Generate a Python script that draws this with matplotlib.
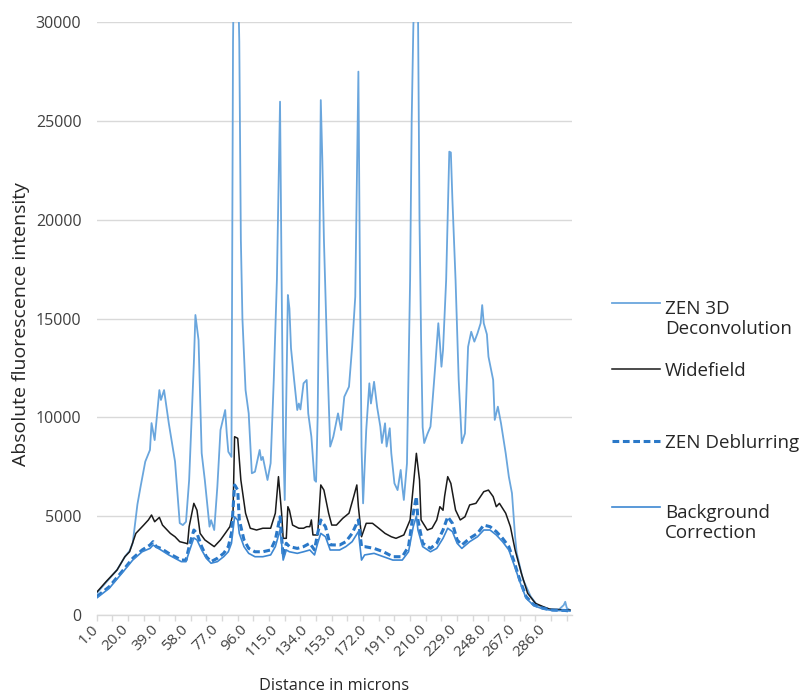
import matplotlib
matplotlib.use("Agg")
import matplotlib.pyplot as plt
from matplotlib.lines import Line2D

plt.rcParams["font.family"] = ["Open Sans", "DejaVu Sans"]

# distance (microns) / intensity pairs
deconv_x = [1, 7, 14, 19, 22, 24, 27, 29, 32, 35, 36, 38, 41, 42, 44, 47, 51, 54, 56, 58,
            60, 63, 64, 66, 68, 70, 73, 74, 76, 78, 80, 83, 84, 85, 87, 88, 89, 90, 91, 92,
            93, 94, 96, 98, 100, 102, 105, 106, 107, 110, 112, 114, 116, 118, 119, 120, 121,
            122, 123, 124, 125, 127, 129, 130, 131, 133, 135, 136, 138, 140, 141, 142, 143,
            144, 145, 146, 148, 150, 152, 155, 157, 159, 162, 164, 166, 168, 169, 170, 171,
            172, 173, 175, 176, 178, 180, 182, 183, 185, 186, 188, 189, 191, 193, 195, 196,
            197, 199, 201, 202, 203, 204, 205, 206, 207, 208, 209, 210, 212, 214, 215, 217,
            219, 220, 221, 222, 224, 226, 227, 228, 230, 232, 234, 236, 238, 240, 242, 244,
            246, 247, 248, 250, 251, 254, 255, 257, 259, 262, 264, 266, 268, 269, 273, 278,
            282, 288, 292, 296, 299, 300, 301, 303]
deconv_y = [1100, 1650, 2280, 2950, 3250, 3640, 5600, 6490, 7760, 8350, 9710, 8850, 11380,
            10880, 11380, 9710, 7760, 4650, 4550, 4720, 6830, 12730, 15180, 13910, 8190, 6830,
            4470, 4800, 4300, 6490, 9360, 10370, 9190, 8260, 8000, 29000, 36000, 38000, 33000,
            29000, 19000, 15000, 11380, 10200, 7170, 7250, 8350, 7840, 8000, 6830, 7680, 11890,
            16950, 25970, 17000, 9000, 5820, 11000, 16190, 15500, 13500, 11890, 10370, 10700,
            10400, 11720, 11890, 10200, 9020, 6830, 6740, 10000, 16950, 26050, 23000, 19000,
            13400, 8520, 9020, 10200, 9360, 11040, 11550, 13570, 16100, 27490, 17000, 8500,
            5650, 7500, 9360, 11720, 10700, 11800, 10500, 9530, 8700, 9700, 8520, 9450, 8180,
            6660, 6320, 7340, 6500, 5820, 7670, 16950, 25000, 29500, 33000, 36000, 31000, 20000,
            14000, 9500, 8700, 9150, 9530, 10500, 12560, 14760, 13740, 12560, 13400, 16950,
            23440, 23400, 21000, 16950, 11890, 8690, 9190, 13570, 14330, 13830, 14250, 14760,
            15680, 14760, 14200, 13070, 11890, 9870, 10540, 9700, 8180, 7000, 6160, 3960, 3150,
            1800, 930, 510, 340, 250, 280, 500, 670, 350, 250]

wide_x = [1, 7, 14, 19, 22, 26, 31, 34, 36, 38, 41, 43, 48, 51, 54, 58, 59, 60, 63, 65, 67,
          70, 73, 76, 80, 83, 86, 88, 89, 91, 93, 96, 99, 103, 107, 112, 115, 117, 119, 120,
          122, 123, 124, 126, 130, 133, 135, 137, 138, 139, 142, 144, 146, 149, 151, 154, 158,
          162, 165, 167, 168, 170, 173, 177, 181, 185, 189, 192, 197, 201, 203, 205, 207, 208,
          212, 215, 218, 220, 222, 223, 225, 227, 230, 233, 236, 239, 243, 248, 251, 254, 256,
          258, 262, 265, 268, 272, 276, 281, 286, 290, 295, 300, 303]
wide_y = [1150, 1690, 2280, 2950, 3200, 4130, 4550, 4810, 5060, 4720, 4940, 4550, 4130, 3960,
          3710, 3630, 3600, 4470, 5650, 5300, 4130, 3800, 3630, 3460, 3800, 4130, 4470, 5150,
          9020, 8940, 6830, 5150, 4390, 4300, 4390, 4390, 5150, 7000, 5150, 3880, 3880, 5480,
          5300, 4550, 4390, 4390, 4470, 4470, 4810, 4050, 4050, 6580, 6320, 5150, 4550, 4550,
          4890, 5150, 5990, 6580, 5480, 3960, 4640, 4640, 4390, 4130, 3960, 3880, 4050, 4810,
          6490, 8180, 6830, 4810, 4300, 4390, 4810, 5480, 5300, 6000, 7000, 6660, 5310, 4810,
          4970, 5570, 5650, 6240, 6320, 5990, 5480, 5650, 5150, 4470, 3290, 2110, 1100, 590,
          420, 300, 280, 250, 250]

deblur_x = [1, 9, 18, 24, 30, 35, 37, 39, 42, 47, 51, 55, 58, 60, 63, 65, 68, 71, 74, 78, 82,
            85, 87, 89, 91, 92, 95, 98, 102, 107, 112, 115, 118, 119, 120, 122, 124, 129, 133,
            137, 140, 142, 144, 147, 150, 156, 160, 164, 168, 170, 172, 178, 184, 190, 196, 200,
            203, 205, 206, 209, 214, 218, 222, 225, 228, 231, 234, 239, 244, 248, 252, 256, 260,
            264, 267, 271, 275, 280, 286, 292, 300, 303]
deblur_y = [930, 1430, 2280, 2870, 3290, 3540, 3710, 3460, 3370, 3120, 2950, 2780, 2780, 3460,
            4300, 4130, 3460, 2950, 2700, 2870, 3120, 3460, 4130, 6580, 6320, 4810, 3800, 3370,
            3200, 3200, 3290, 3800, 4970, 3960, 2950, 3630, 3460, 3370, 3460, 3630, 3290, 4130,
            4810, 4470, 3550, 3540, 3710, 4130, 4810, 3460, 3460, 3370, 3200, 2950, 2950, 3460,
            5150, 5990, 4810, 3630, 3370, 3630, 4300, 4970, 4640, 3800, 3540, 3880, 4130, 4550,
            4470, 4220, 3880, 3460, 2780, 1770, 930, 510, 340, 250, 230, 200]

backgr_x = [1, 9, 18, 24, 30, 35, 37, 42, 47, 51, 55, 58, 60, 63, 65, 68, 71, 74, 78, 82, 85,
            87, 89, 91, 92, 95, 98, 102, 107, 112, 115, 118, 119, 120, 122, 124, 129, 133, 137,
            140, 142, 144, 147, 150, 156, 160, 164, 168, 170, 172, 178, 184, 190, 196, 200, 203,
            205, 206, 209, 214, 218, 222, 225, 228, 231, 234, 239, 244, 248, 252, 256, 260, 264,
            267, 271, 275, 280, 286, 292, 300, 303]
backgr_y = [860, 1350, 2200, 2780, 3200, 3370, 3540, 3290, 3040, 2870, 2700, 2700, 3200, 3900,
            3800, 3290, 2870, 2620, 2700, 2950, 3200, 3630, 4970, 4800, 4130, 3460, 3120, 2950,
            2950, 3040, 3460, 4300, 3630, 2780, 3290, 3200, 3120, 3200, 3290, 3040, 3630, 4130,
            3960, 3290, 3290, 3460, 3710, 4220, 2780, 3040, 3120, 2950, 2780, 2780, 3200, 4470,
            5000, 4300, 3460, 3200, 3370, 3880, 4390, 4220, 3630, 3370, 3710, 3960, 4300, 4300,
            4050, 3710, 3290, 2620, 1690, 850, 470, 300, 230, 220, 200]

x_labels = [1.0, 20.0, 39.0, 58.0, 77.0, 96.0, 115.0, 134.0, 153.0, 172.0, 191.0, 210.0,
            229.0, 248.0, 267.0, 286.0]

C_DECONV = "#6aa6dd"
C_WIDE = "#1a1a1a"
C_DEBLUR = "#2a78c8"
C_BACK = "#3d87d2"
GRID = "#d9d9d9"
TXT = "#404040"

fig = plt.figure(figsize=(8.07, 6.94), dpi=100)
ax = fig.add_axes([0.1198, 0.1138, 0.5886, 0.8545])

ax.plot(deconv_x, deconv_y, color=C_DECONV, linewidth=1.3)
ax.plot(wide_x, wide_y, color=C_WIDE, linewidth=1.1)
ax.plot(deblur_x, deblur_y, color=C_DEBLUR, linewidth=2.2, dashes=(2.2, 1.2))
ax.plot(backgr_x, backgr_y, color=C_BACK, linewidth=1.2)

ax.set_xlim(1, 304.1)
ax.set_ylim(0, 30000)

ax.set_yticks(range(0, 30001, 5000))
ax.tick_params(axis="y", length=0, pad=11, labelsize=11.5, labelcolor=TXT)
ax.grid(axis="y", color=GRID, linewidth=1.0)
ax.set_axisbelow(True)

# tick marks every 10 categories, labels every 19
ax.xaxis.remove_overlapping_locs = False
ax.set_xticks(range(1, 302, 10))
ax.set_xticklabels([])
ax.tick_params(axis="x", which="major", length=4, width=1, color=GRID, direction="out")
ax.set_xticks(x_labels, minor=True)
ax.set_xticklabels([f"{v:.1f}" for v in x_labels], minor=True, rotation=45,
                   ha="right", va="center", rotation_mode="anchor")
ax.tick_params(axis="x", which="minor", length=0, pad=9, labelsize=11, labelcolor=TXT)

for side in ("top", "right", "left"):
    ax.spines[side].set_visible(False)
ax.spines["bottom"].set_color(GRID)
ax.spines["bottom"].set_linewidth(1.0)

ax.set_ylabel("Absolute fluorescence intensity", fontsize=14, color="#262626")
ax.yaxis.set_label_coords(-0.14, 0.49)
ax.set_xlabel("Distance in microns", fontsize=11.8, color="#262626", va="top")
ax.xaxis.set_label_coords(0.5, -0.106)

# legend on the right, laid out like the original
legend = [
    ("ZEN 3D\nDeconvolution", C_DECONV, 1.3, None, 303),
    ("Widefield", C_WIDE, 1.1, None, 369),
    ("ZEN Deblurring", C_DEBLUR, 2.2, (2.2, 1.2), 441),
    ("Background\nCorrection", C_BACK, 1.2, None, 507),
]
W, H = 807, 694
for label, color, lw, dash, ypx in legend:
    yf = 1 - ypx / H
    ln = Line2D([612 / W, 660 / W], [yf, yf], transform=fig.transFigure,
                color=color, linewidth=lw)
    if dash:
        ln.set_dashes(dash)
    fig.add_artist(ln)
    # baseline of the last text line
    base = ypx + 7 + 24 * label.count("\n")
    fig.text(665 / W, 1 - base / H, label, fontsize=13.5, color="#262626",
             va="baseline", ha="left", linespacing=1.12)

fig.savefig("out.png", dpi=100)
